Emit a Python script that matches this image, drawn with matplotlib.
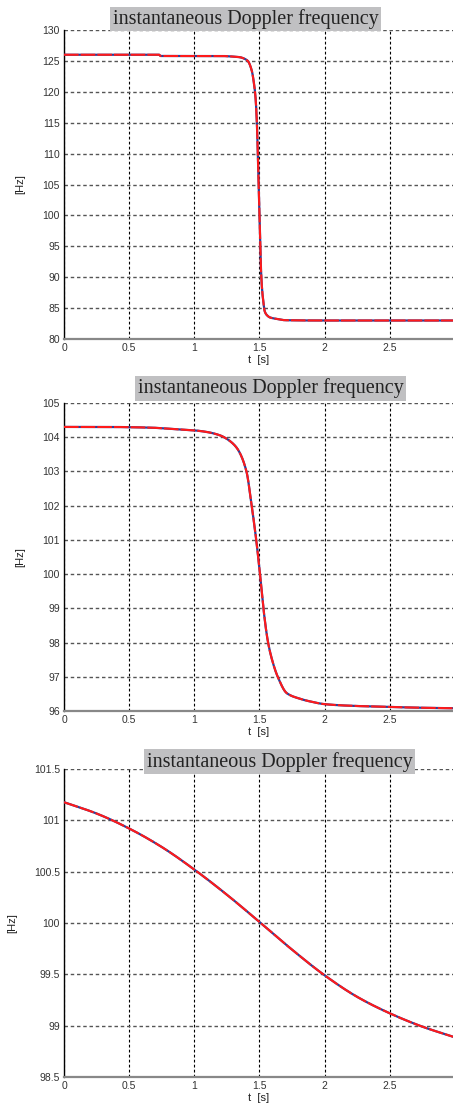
import numpy as np
import matplotlib.pyplot as plt
from matplotlib.ticker import FuncFormatter

# panel 1: sharp drop
t1 = [0, 0.73, 0.74, 1.0, 1.2, 1.3, 1.35, 1.38, 1.41, 1.44, 1.46, 1.47, 1.48,
      1.49, 1.50, 1.51, 1.52, 1.53, 1.54, 1.56, 1.58, 1.62, 1.70, 2.0, 2.5, 2.99]
f1 = [126.0, 126.0, 125.8, 125.8, 125.8, 125.7, 125.6, 125.4, 125.0, 123.5, 121.0,
      119.0, 115.0, 108.0, 100.0, 92.0, 88.0, 86.0, 84.5, 83.8, 83.5, 83.3, 83.05,
      83.0, 83.0, 83.0]

# panel 2: smoother drop
t2 = [0, 0.3, 0.66, 0.8, 1.0, 1.1, 1.2, 1.25, 1.3, 1.336, 1.40, 1.44, 1.475, 1.504,
      1.53, 1.566, 1.6, 1.64, 1.71, 1.80, 1.9, 2.0, 2.22, 2.5, 2.68, 2.99]
f2 = [104.3, 104.3, 104.28, 104.25, 104.2, 104.15, 104.05, 103.95, 103.8, 103.63,
      103.0, 102.0, 101.0, 100.0, 99.0, 98.0, 97.45, 97.0, 96.52, 96.37, 96.27, 96.2,
      96.15, 96.12, 96.1, 96.08]

# panel 3: slow decrease
t3 = [0, 0.25, 0.5, 0.75, 1.0, 1.25, 1.5, 1.75, 2.0, 2.25, 2.5, 2.75, 2.99]
f3 = [101.176, 101.066, 100.92, 100.74, 100.52, 100.275, 100.01, 99.74, 99.49, 99.28,
      99.12, 98.99, 98.89]


def pchip(x, y, xs):
    # monotone cubic (Fritsch-Carlson) so the read points join smoothly
    x = np.asarray(x, float)
    y = np.asarray(y, float)
    h = np.diff(x)
    d = np.diff(y) / h
    m = np.zeros_like(y)
    for k in range(1, len(x) - 1):
        if d[k - 1] * d[k] > 0:
            w1 = 2 * h[k] + h[k - 1]
            w2 = h[k] + 2 * h[k - 1]
            m[k] = (w1 + w2) / (w1 / d[k - 1] + w2 / d[k])
    m[0], m[-1] = d[0], d[-1]
    i = np.clip(np.searchsorted(x, xs) - 1, 0, len(x) - 2)
    s = (xs - x[i]) / h[i]
    h00 = 2 * s**3 - 3 * s**2 + 1
    h10 = s**3 - 2 * s**2 + s
    h01 = -2 * s**3 + 3 * s**2
    h11 = s**3 - s**2
    return h00 * y[i] + h10 * h[i] * m[i] + h01 * y[i + 1] + h11 * h[i] * m[i + 1]


panels = [
    (t1, f1, (80, 130), np.arange(80, 131, 5), 0.694, 0.2789, 0.4666, 1.0356),
    (t2, f2, (96, 105), np.arange(96, 106, 1), 0.3583, 0.278, 0.531, 1.047),
    (t3, f3, (98.5, 101.5), np.arange(98.5, 101.6, 0.5), 0.028, 0.278, 0.554, 1.024),
]

title = 'instantaneous Doppler frequency'
xticks = [0, 0.5, 1, 1.5, 2, 2.5]

fig = plt.figure(figsize=(4.53, 11.08), dpi=100)

for t, f, ylim, yticks, y0, h, tx, ty in panels:
    ax = fig.add_axes([64 / 453, y0, 389 / 453, h])
    ts = np.linspace(0, 2.99, 1500)
    fs = pchip(t, f, ts)
    ax.plot(ts, fs, color='#2a3f9a', lw=1.6, zorder=3)
    ax.plot(ts, fs, color='#ff1a1a', lw=1.5, ls=(0, (7, 1)), zorder=4)

    ax.set_xlim(0, 2.985)
    ax.set_ylim(*ylim)
    ax.set_xticks(xticks)
    ax.set_yticks(yticks)
    ax.xaxis.set_major_formatter(FuncFormatter(lambda v, p: '%g' % v))
    ax.yaxis.set_major_formatter(FuncFormatter(lambda v, p: '%g' % v))
    ax.tick_params(length=0, labelsize=7.5, labelcolor='#333333', pad=3)
    for lab in ax.get_xticklabels() + ax.get_yticklabels():
        lab.set_family('Liberation Sans')

    ax.grid(True, axis='x', color='black', lw=0.8, ls=(0, (2.5, 2)))
    ax.grid(True, axis='y', color='#555555', lw=1.0, ls=(0, (2.5, 2)))
    ax.set_axisbelow(True)

    ax.spines['top'].set_visible(False)
    ax.spines['right'].set_visible(False)
    ax.spines['bottom'].set_color('#888888')
    ax.spines['bottom'].set_linewidth(1.6)
    ax.spines['left'].set_color('black')
    ax.spines['left'].set_linewidth(1.0)

    ax.set_xlabel('t  [s]', fontsize=8, family='Liberation Sans', color='#222222', labelpad=1)
    ax.set_ylabel('[Hz]', fontsize=8, family='Liberation Sans', color='#222222', labelpad=12)

    ax.text(tx, ty, title, transform=ax.transAxes, ha='center', va='center',
            fontsize=14.5, family='Liberation Serif', color='#222222', zorder=10,
            bbox=dict(boxstyle='square,pad=0.12', fc='#c0c0c2', ec='none'), clip_on=False)

fig.savefig('out.png', dpi=100)
